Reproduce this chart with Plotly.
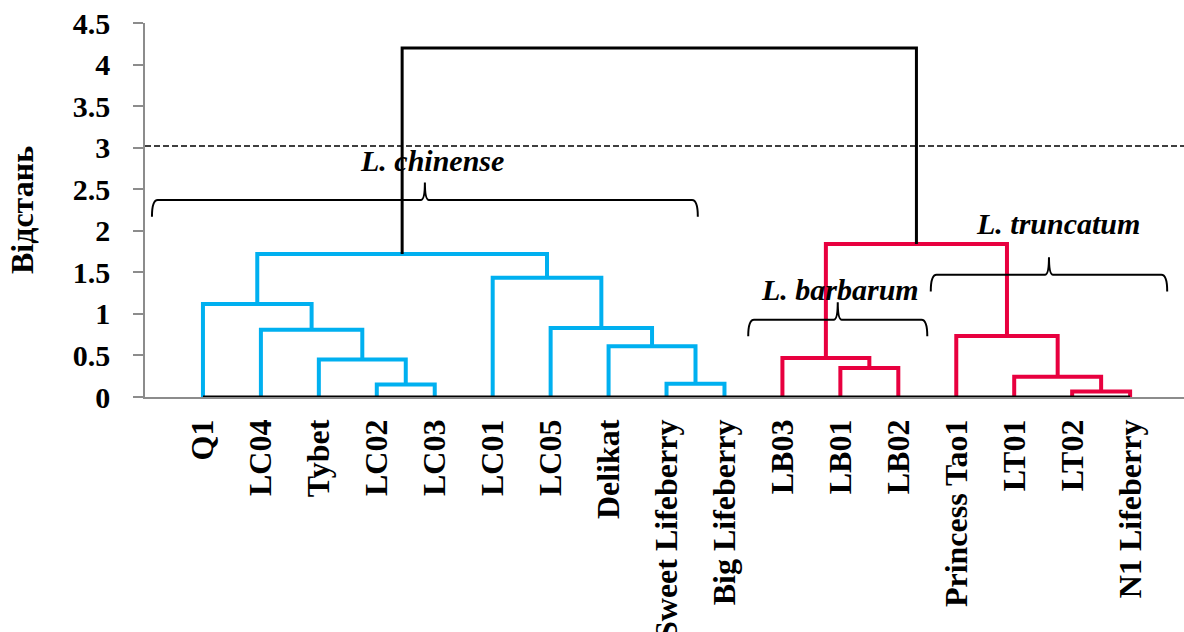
import plotly.graph_objects as go

# ---------------- data ----------------
leaves = ["Q1", "LC04", "Tybet", "LC02", "LC03", "LC01", "LC05", "Delikat",
          "Sweet Lifeberry", "Big Lifeberry", "LB03", "LB01", "LB02",
          "Princess Tao1", "LT01", "LT02", "N1 Lifeberry"]

# merges (scipy-like): new node id = len(leaves) + index
merge_left = [3, 2, 1, 0, 8, 7, 6, 5, 20, 11, 10, 15, 14, 13, 27, 25]
merge_right = [4, 17, 18, 19, 9, 21, 22, 23, 24, 12, 26, 16, 28, 29, 30, 31]
merge_height = [0.15, 0.45, 0.81, 1.12, 0.16, 0.61, 0.83, 1.435, 1.72,
                0.35, 0.47, 0.065, 0.245, 0.735, 1.84, 4.20]
merge_color = ["blue"] * 9 + ["red"] * 6 + ["black"]

cut_height = 3.02

brace_names = ["L. chinense", "L. barbarum", "L. truncatum"]
brace_x0 = [-0.88, 9.41, 12.56]
brace_x1 = [8.54, 12.50, 16.64]
brace_y = [2.37, 0.93, 1.47]
label_x = [3.95, 10.99, 14.76]
label_y = [2.85, 1.29, 2.09]

colors = {"blue": "#00B0F0", "red": "#E8003F", "black": "#000000"}
widths = {"blue": 4, "red": 4, "black": 3}
FONT = "Liberation Serif"

# ---------------- dendrogram geometry ----------------
n = len(leaves)
node_x = {i: float(i) for i in range(n)}
node_h = {i: 0.0 for i in range(n)}
segs = {"blue": ([], []), "red": ([], []), "black": ([], [])}
for k, (a, b, h, c) in enumerate(zip(merge_left, merge_right, merge_height, merge_color)):
    xa, xb = node_x[a], node_x[b]
    xs, ys = segs[c]
    xs += [xa, xa, xb, xb, None]
    ys += [node_h[a], h, h, node_h[b], None]
    node_x[n + k] = (xa + xb) / 2
    node_h[n + k] = h

fig = go.Figure()
for c in ["blue", "red", "black"]:
    xs, ys = segs[c]
    fig.add_trace(go.Scatter(x=xs, y=ys, mode="lines",
                             line=dict(color=colors[c], width=widths[c]),
                             hoverinfo="skip", showlegend=False, cliponaxis=False))

# baseline
fig.add_trace(go.Scatter(x=[0, n - 1], y=[0, 0], mode="lines",
                         line=dict(color="black", width=3),
                         hoverinfo="skip", showlegend=False, cliponaxis=False))

# cut line
fig.add_shape(type="line", xref="paper", x0=0, x1=1, yref="y",
              y0=cut_height, y1=cut_height,
              line=dict(color="black", width=1.5, dash="6px,3px"))


def brace_path(x0, x1, y, depth=0.2, tip=0.21, r=0.1, rc=0.07):
    xc = (x0 + x1) / 2
    return (f"M {x0},{y - depth} Q {x0},{y} {x0 + r},{y} L {xc - rc},{y} "
            f"Q {xc},{y} {xc},{y + tip} Q {xc},{y} {xc + rc},{y} "
            f"L {x1 - r},{y} Q {x1},{y} {x1},{y - depth}")


for name, x0, x1, y, lx, ly in zip(brace_names, brace_x0, brace_x1, brace_y, label_x, label_y):
    fig.add_shape(type="path", xref="x", yref="y", path=brace_path(x0, x1, y),
                  line=dict(color="black", width=2))
    fig.add_annotation(x=lx, y=ly, xref="x", yref="y", text=name, showarrow=False,
                       font=dict(family=FONT, size=30, color="black",
                                 weight="bold", style="italic"))

fig.update_layout(
    width=1184, height=632,
    margin=dict(l=145, r=0, t=23, b=235, autoexpand=False),
    paper_bgcolor="white", plot_bgcolor="white",
    showlegend=False,
)
fig.update_xaxes(
    automargin=False,
    range=[-1, 16.93], tickmode="array", tickvals=list(range(n)), ticktext=leaves,
    tickangle=-90, showgrid=False, zeroline=False,
    showline=True, linecolor="#8C8C8C", linewidth=1.5, ticks="",
    tickfont=dict(family=FONT, size=32, color="black", weight="bold"),
    ticklabelstandoff=8,
)
fig.update_yaxes(
    automargin=False,
    range=[0, 4.5], dtick=0.5, showgrid=False, zeroline=False,
    showline=True, linecolor="#8C8C8C", linewidth=1.5,
    ticks="outside", ticklen=10, tickwidth=1.5, tickcolor="#8C8C8C",
    tickfont=dict(family=FONT, size=30, color="black", weight="bold"),
    ticklabelstandoff=17,
    title=dict(text="Відстань", standoff=30,
               font=dict(family=FONT, size=32, color="black", weight="bold")),
)

fig.write_html("out.html", config={"displayModeBar": False},
               post_script="document.body.style.margin='0px';document.body.style.overflow='hidden';")
